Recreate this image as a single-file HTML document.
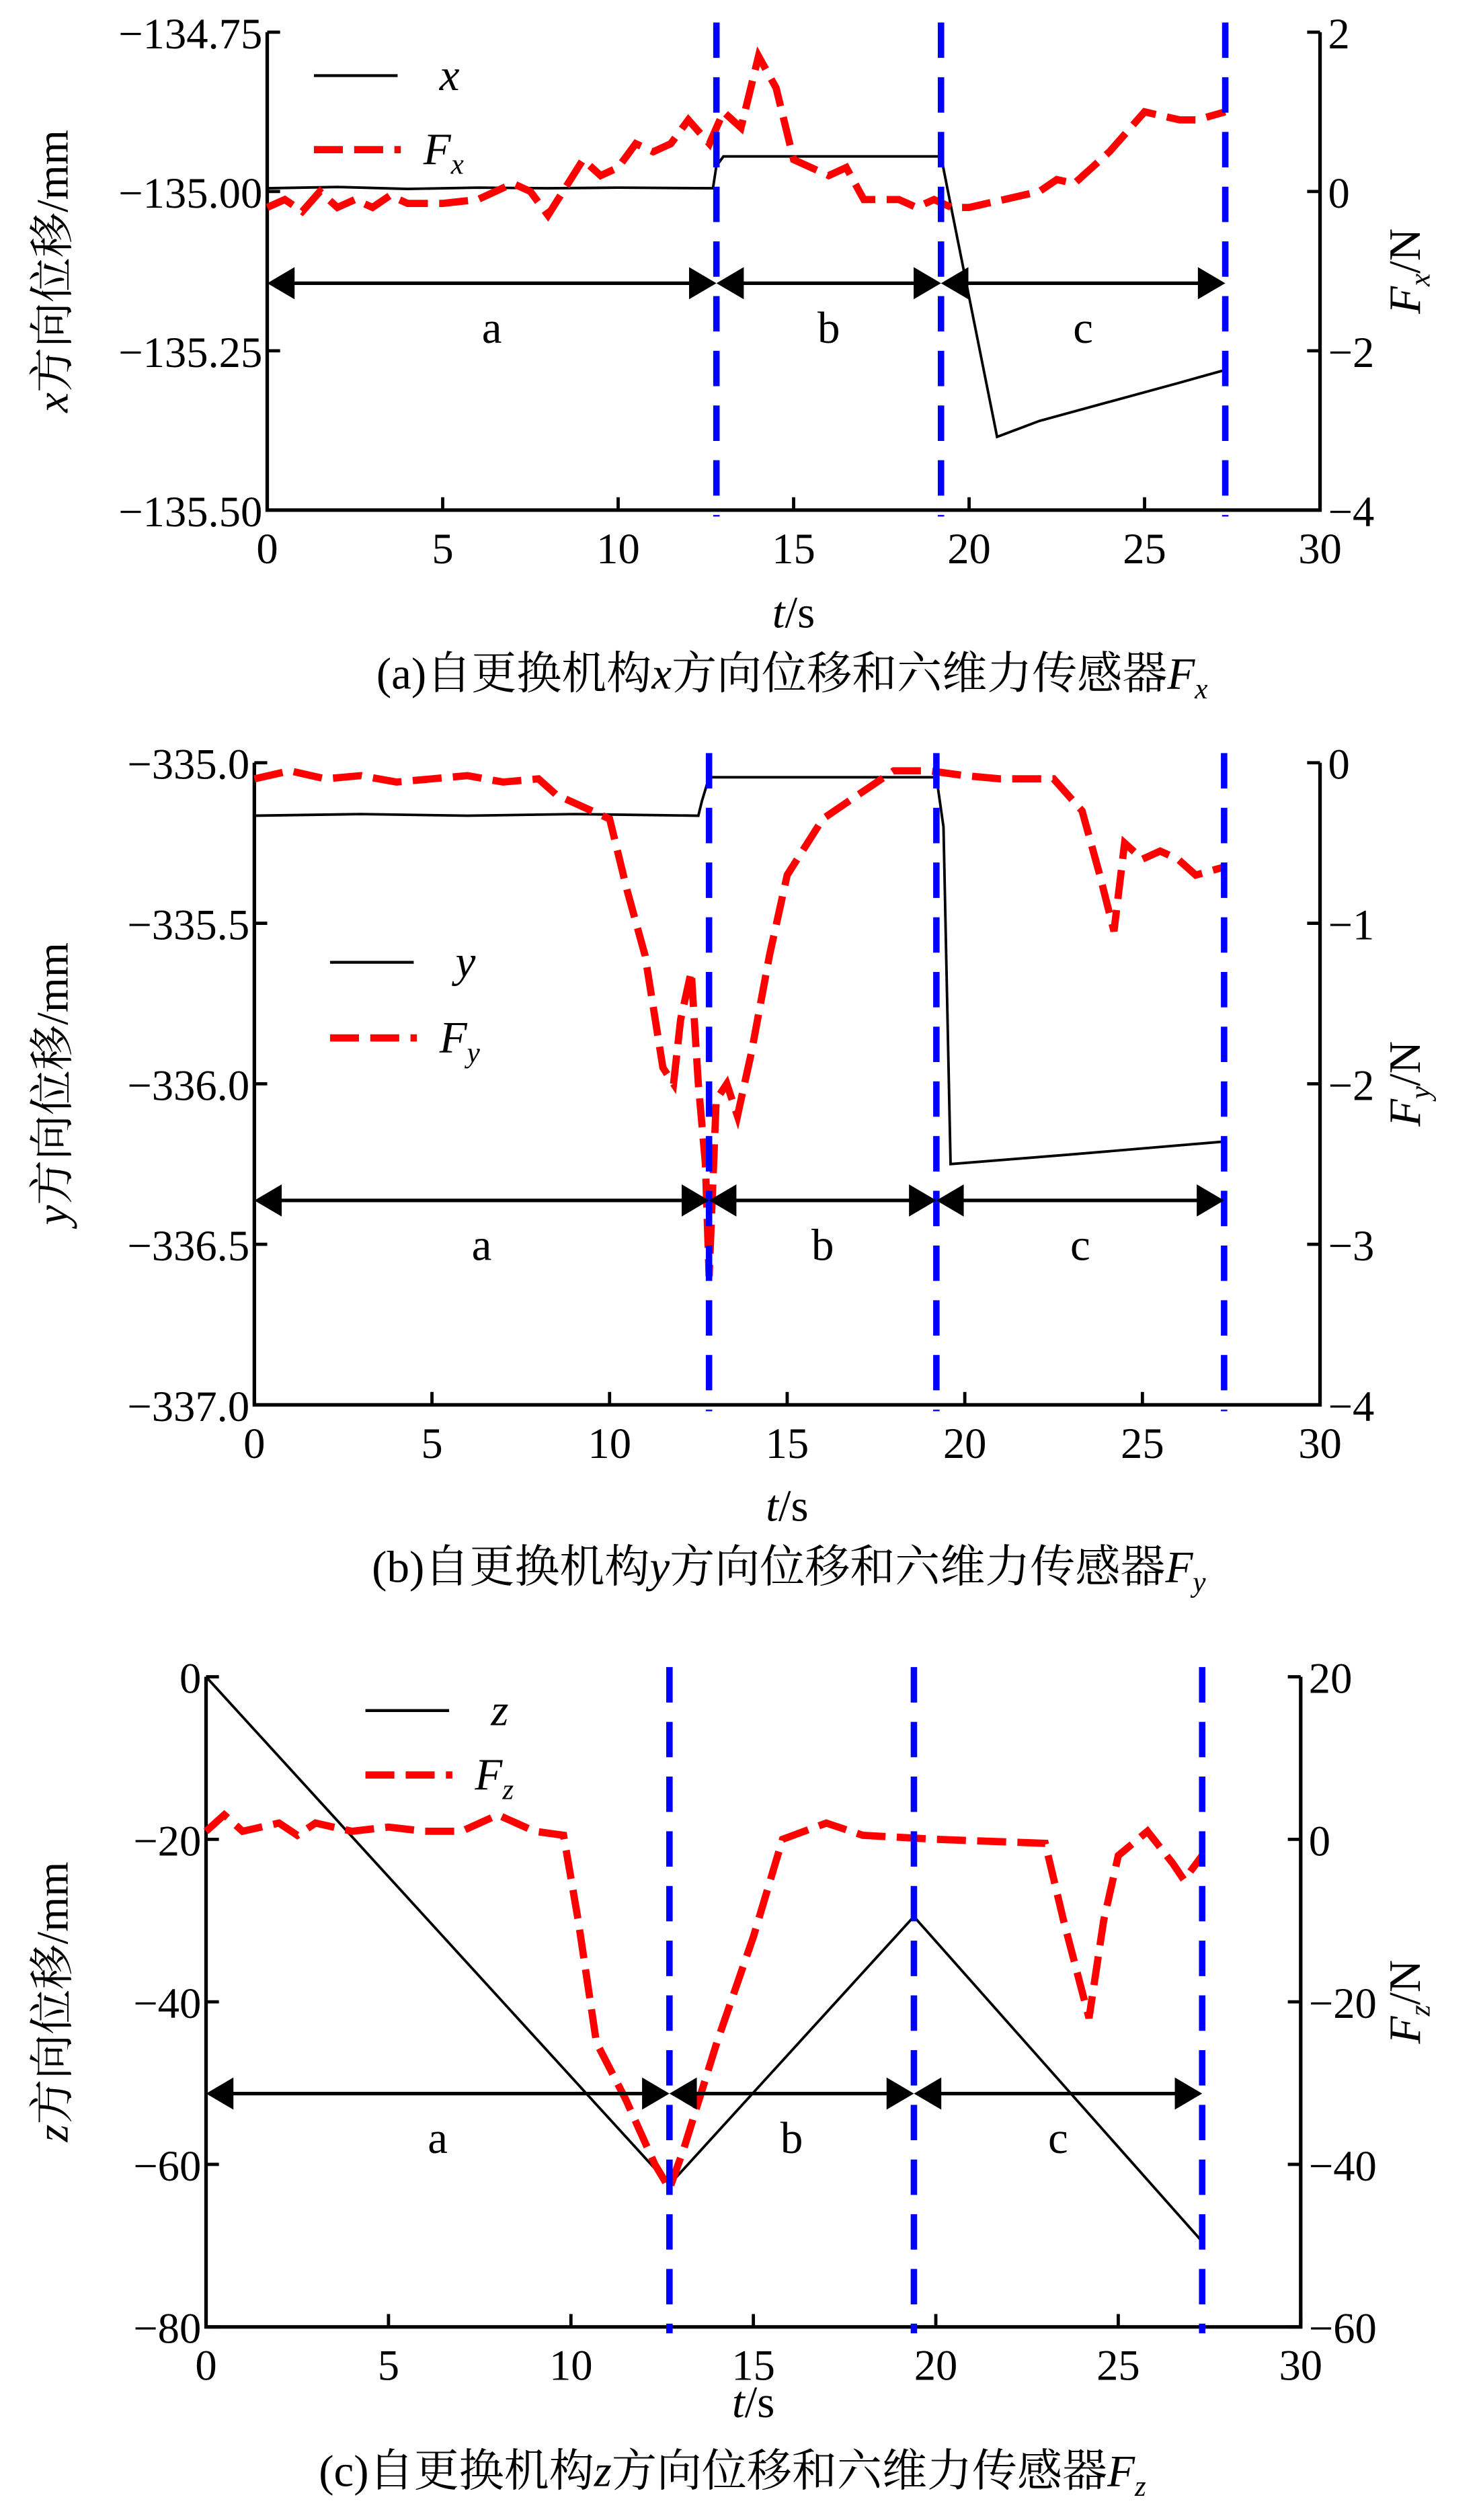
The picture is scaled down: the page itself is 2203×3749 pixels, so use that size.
<!DOCTYPE html>
<html><head><meta charset="utf-8">
<style>
html,body{margin:0;padding:0;background:#fff}
svg{display:block}
text{font-family:"Liberation Serif","Noto Serif CJK SC","Noto Sans CJK SC",serif;fill:#000}
</style></head>
<body>
<svg id="fig" width="2203" height="3749" viewBox="0 0 920 1566" preserveAspectRatio="none" xmlns="http://www.w3.org/2000/svg"></svg>
<script>
// ---- Chart (a) data ----
const aXt = [0,2,4,6,8,10,12.7,12.8,13,19.2,19.4,20.8,22,24,26,27.3];
const aXv = [-134.995,-134.993,-134.996,-134.994,-134.995,-134.994,-134.995,-134.96,-134.945,-134.945,-135.0,-135.385,-135.36,-135.33,-135.30,-135.28];
const aFt = [0,0.5,1,1.5,2,2.5,3,3.5,4,5,6,7,7.5,8,9,9.5,10,10.5,11,11.5,12,12.6,13,13.5,14,14.5,15,16,16.5,17,18,18.5,19,19.5,20,21,22,22.5,23,24,25,26,26.5,27.3];
const aFv = [-0.2,-0.1,-0.25,0,-0.2,-0.1,-0.2,-0.05,-0.15,-0.15,-0.1,0.1,0.0,-0.3,0.4,0.2,0.3,0.6,0.5,0.6,0.9,0.6,1.0,0.8,1.7,1.3,0.4,0.2,0.3,-0.1,-0.1,-0.2,-0.1,-0.2,-0.2,-0.1,0.0,0.15,0.1,0.5,1.0,0.9,0.9,1.0];
const aLeftTicks = ["−134.75","−135.00","−135.25","−135.50"];
const aLeftVals = [-134.75,-135.0,-135.25,-135.5];
const aRightVals = [2,0,-2,-4];
const aRightTicks = ["2","0","−2","−4"];
// ---- Chart (b) data ----
const bYt = [0,3,6,9,12.5,12.6,12.8,16,19.2,19.4,19.6,23,27.3];
const bYv = [-335.165,-335.16,-335.165,-335.16,-335.165,-335.12,-335.045,-335.045,-335.045,-335.2,-336.25,-336.22,-336.18];
const bFt = [0,1,2,3,4,5,6,7,8,8.5,9.5,10,10.5,11,11.5,11.8,12,12.3,12.5,12.7,12.8,13,13.3,13.6,14,14.5,15,16,17,18,19,20,21,22.5,23.3,23.8,24.2,24.5,25,25.5,26,26.5,27.3];
const bFv = [-0.1,-0.05,-0.1,-0.08,-0.12,-0.1,-0.08,-0.12,-0.1,-0.2,-0.3,-0.35,-0.8,-1.2,-1.9,-2.0,-1.6,-1.3,-2.0,-2.5,-3.2,-2.1,-2.0,-2.2,-1.8,-1.2,-0.7,-0.35,-0.2,-0.05,-0.05,-0.08,-0.1,-0.1,-0.3,-0.7,-1.05,-0.5,-0.6,-0.55,-0.6,-0.7,-0.65];
const bLeftVals = [-335,-335.5,-336,-336.5,-337];
const bLeftTicks = ["−335.0","−335.5","−336.0","−336.5","−337.0"];
const bRightVals = [0,-1,-2,-3,-4];
const bRightTicks = ["0","−1","−2","−3","−4"];
// ---- Chart (c) data ----
const cZt = [0,12.7,19.4,27.3];
const cZv = [0,-62.5,-29.5,-69.5];
const cFt = [0,0.5,1,2,2.5,3,4,5,6,7,8,9,9.8,10.2,10.7,11.5,12.3,12.7,13.1,14,15,15.8,17,18,20,23,23.5,24.2,24.6,25,25.8,26.5,26.8,27.3];
const cFv = [1,3,1,2,0.5,2,1,1.5,1,1,3,1,0.5,-10,-25,-32,-40,-43,-38,-25,-12,0,2,0.5,0,-0.5,-10,-22,-10,-2,1,-3,-5,-2];
const cLeftVals = [0,-20,-40,-60,-80];
const cLeftTicks = ["0","−20","−40","−60","−80"];
const cRightVals = [20,0,-20,-40,-60];
const cRightTicks = ["20","0","−20","−40","−60"];
const xTickVals = [0,5,10,15,20,25,30];
const xTickLabels = ["0","5","10","15","20","25","30"];

const NS="http://www.w3.org/2000/svg";
const svg=document.getElementById('fig');
function mk(tag,attrs,parent){const e=document.createElementNS(NS,tag);for(const k in attrs)e.setAttribute(k,attrs[k]);(parent||svg).appendChild(e);return e;}

function chart(c){
  const g=mk('g',{});
  
  
  const X=t=>c.L+(t/30)*(c.R-c.L);
  const YL=v=>c.T+(c.lmax-v)/(c.lmax-c.lmin)*(c.B-c.T);
  const YR=v=>c.T+(c.rmax-v)/(c.rmax-c.rmin)*(c.B-c.T);
  const ax=mk('path',{d:`M${c.L},${c.T}V${c.B}H${c.R}V${c.T}`,fill:'none',stroke:'#000','stroke-width':2.2},g);
  
  
  xTickVals.forEach((v,i)=>{
    mk('line',{x1:X(v),x2:X(v),y1:c.B,y2:c.B-8,stroke:'#000','stroke-width':2},g);
    const t=mk('text',{x:X(v),y:c.B+33,'font-size':27,'text-anchor':'middle'},g);t.textContent=xTickLabels[i];
    
    
  });
  c.lv.forEach((v,i)=>{
    mk('line',{x1:c.L,x2:c.L+8,y1:YL(v),y2:YL(v),stroke:'#000','stroke-width':2},g);
    const t=mk('text',{x:c.L-3,y:YL(v)+10,'font-size':27,'text-anchor':'end'},g);t.textContent=c.lt[i];
    
    
  });
  c.rv.forEach((v,i)=>{
    mk('line',{x1:c.R,x2:c.R-8,y1:YR(v),y2:YR(v),stroke:'#000','stroke-width':2},g);
    const t=mk('text',{x:c.R+5,y:YR(v)+10,'font-size':27,'text-anchor':'start'},g);t.textContent=c.rt[i];
    
    
  });
  const yt=mk('text',{transform:`translate(${c.ylx},${(c.T+c.B)/2}) rotate(-90)`,'font-size':28,'text-anchor':'middle'},g);
  yt.innerHTML=`<tspan font-style="italic">${c.v}</tspan>方向位移/mm`;
  
  
  const rt=mk('text',{transform:`translate(${c.ryx},${(c.T+c.B)/2}) rotate(-90)`,'font-size':28,'text-anchor':'middle'},g);
  rt.innerHTML=`<tspan font-style="italic">F</tspan><tspan font-style="italic" font-size="18" dy="6">${c.v}</tspan><tspan dy="-6">/N</tspan>`;
  
  
  const xt=mk('text',{x:(c.L+c.R)/2,y:c.xty,'font-size':28,'text-anchor':'middle'},g);
  xt.innerHTML='<tspan font-style="italic">t</tspan>/s';
  
  
  const cap=mk('text',{x:c.capx,y:c.capy,'font-size':28,'text-anchor':'middle'},g);
  cap.innerHTML=`(${c.letter})自更换机构<tspan font-style="italic">${c.v}</tspan>方向位移和六维力传感器<tspan font-style="italic">F</tspan><tspan font-style="italic" font-size="18" dy="6">${c.v}</tspan>`;
  
  
  const pd=c.dt.map((t,i)=>`${i?'L':'M'}${X(t).toFixed(1)},${YL(c.dv[i]).toFixed(1)}`).join('');
  const p1=mk('path',{d:pd,fill:'none',stroke:'#000','stroke-width':1.6},g);
  
  
  const fd=c.ft.map((t,i)=>`${i?'L':'M'}${X(t).toFixed(1)},${YR(c.fv[i]).toFixed(1)}`).join('');
  const p2=mk('path',{d:fd,fill:'none',stroke:'#ff0000','stroke-width':4.5,'stroke-dasharray':'18,7'},g);
  
  
  c.phases.forEach(t=>{
    const l=mk('line',{x1:X(t),x2:X(t),y1:c.T-6,y2:c.B+4,stroke:'#0000ff','stroke-width':4,'stroke-dasharray':'22,12'},g);
    
    
  });
  const bounds=[0].concat(c.phases);
  ['a','b','c'].forEach((lab,i)=>{
    const x1=X(bounds[i]),x2=X(bounds[i+1]),y=c.ay;
    mk('line',{x1:x1+14,x2:x2-14,y1:y,y2:y,stroke:'#000','stroke-width':2.2},g);
    const h=mk('path',{d:`M${x1},${y}l17,-10v20z M${x2},${y}l-17,-10v20z`,fill:'#000'},g);
    
    
    const t=mk('text',{x:(x1+x2)/2,y:y+37,'font-size':28,'text-anchor':'middle'},g);t.textContent=lab;
    
    
  });
  const lg=mk('g',{},g);
  
  
  mk('line',{x1:c.lgx,x2:c.lgx+52,y1:c.lgy,y2:c.lgy,stroke:'#000','stroke-width':1.8},lg);
  const l1=mk('text',{x:c.lgx+78,y:c.lgy+9,'font-size':28,'font-style':'italic'},lg);l1.textContent=c.v;
  mk('line',{x1:c.lgx,x2:c.lgx+54,y1:c.lgy+c.lgd,y2:c.lgy+c.lgd,stroke:'#ff0000','stroke-width':4.5,'stroke-dasharray':'18,7'},lg);
  const l2=mk('text',{x:c.lgx+68,y:c.lgy+c.lgd+9,'font-size':28,'font-style':'italic'},lg);
  l2.innerHTML=`F<tspan font-size="18" dy="6">${c.v}</tspan>`;
}

chart({name:'chart-a',v:'x',letter:'a',L:166,R:820,T:20,B:317,lmax:-134.75,lmin:-135.5,rmax:2,rmin:-4,
  lv:aLeftVals,lt:aLeftTicks,rv:aRightVals,rt:aRightTicks,dt:aXt,dv:aXv,ft:aFt,fv:aFv,
  phases:[12.8,19.2,27.3],ay:176,lgx:195,lgy:47,lgd:46,ylx:42,ryx:882,xty:390,capx:492,capy:428});
chart({name:'chart-b',v:'y',letter:'b',L:158,R:820,T:474,B:873,lmax:-335,lmin:-337,rmax:0,rmin:-4,
  lv:bLeftVals,lt:bLeftTicks,rv:bRightVals,rt:bRightTicks,dt:bYt,dv:bYv,ft:bFt,fv:bFv,
  phases:[12.8,19.2,27.3],ay:746,lgx:205,lgy:598,lgd:47,ylx:42,ryx:882,xty:945,capx:490,capy:983});
chart({name:'chart-c',v:'z',letter:'c',L:128,R:808,T:1042,B:1446,lmax:0,lmin:-80,rmax:20,rmin:-60,
  lv:cLeftVals,lt:cLeftTicks,rv:cRightVals,rt:cRightTicks,dt:cZt,dv:cZv,ft:cFt,fv:cFv,
  phases:[12.7,19.4,27.3],ay:1301,lgx:227,lgy:1063,lgd:40,ylx:42,ryx:882,xty:1502,capx:455,capy:1545});
</script>
</body></html>
